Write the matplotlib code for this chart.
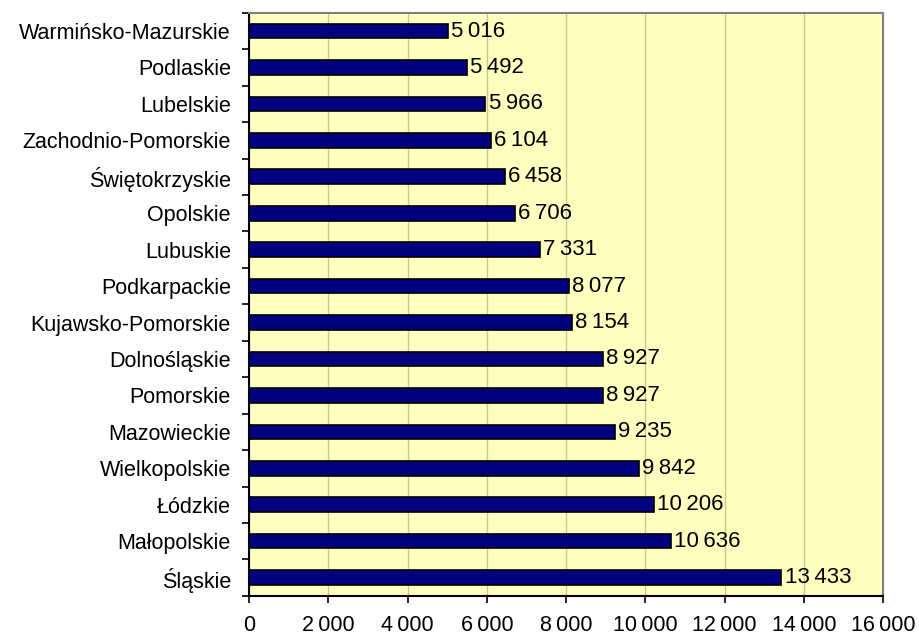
import matplotlib.pyplot as plt
import numpy as np

regions = ["Warmińsko-Mazurskie", "Podlaskie", "Lubelskie", "Zachodnio-Pomorskie",
           "Świętokrzyskie", "Opolskie", "Lubuskie", "Podkarpackie",
           "Kujawsko-Pomorskie", "Dolnośląskie", "Pomorskie", "Mazowieckie",
           "Wielkopolskie", "Łódzkie", "Małopolskie", "Śląskie"]
values = [5016, 5492, 5966, 6104, 6458, 6706, 7331, 8077,
          8154, 8927, 8927, 9235, 9842, 10206, 10636, 13433]
xticks = list(range(0, 16001, 2000))

plt.rcParams['font.family'] = ['Liberation Sans', 'DejaVu Sans']

def fmt(v):
    return f"{v:,}".replace(",", "\u2009")

fig = plt.figure(figsize=(9.19, 6.4), dpi=100)
ax = fig.add_axes([0.271, 0.069, 0.690, 0.911])
ax.set_facecolor("#FFFFC0")

y = np.arange(len(regions))
ax.barh(y, values, height=0.4, color="#000080", edgecolor="black", linewidth=1.2, zorder=3)
for yi, v in zip(y, values):
    ax.text(v + 80, yi, fmt(v), va="center", ha="left", fontsize=16, zorder=4)

ax.set_xlim(0, 16000)
ax.set_ylim(len(regions) - 0.5, -0.5)
ax.set_xticks(xticks)
ax.set_xticklabels([fmt(t) for t in xticks], fontsize=15.5)
ax.set_yticks(y)
ax.set_yticklabels(regions, fontsize=15.5)
ax.tick_params(axis="y", length=0, pad=13)
ax.set_yticks(np.arange(-0.5, len(regions)), minor=True)
ax.tick_params(axis="y", which="minor", length=5, width=1.2, color="black")
ax.tick_params(axis="x", length=5, width=1.2, pad=9)
ax.grid(axis="x", color="#C8C890", linewidth=1, zorder=1)

for side in ["top", "right"]:
    ax.spines[side].set_color("#808080")
    ax.spines[side].set_linewidth(1.5)
for side in ["left", "bottom"]:
    ax.spines[side].set_color("black")
    ax.spines[side].set_linewidth(1.5)

fig.savefig("out.png", dpi=100)
